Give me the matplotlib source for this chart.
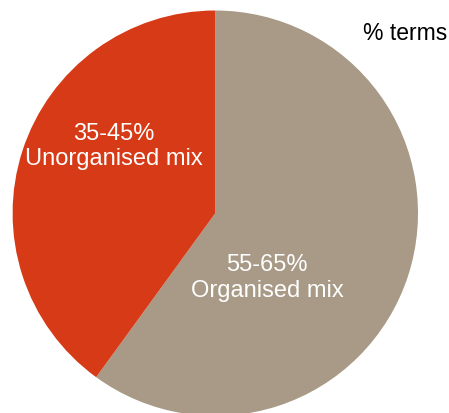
import matplotlib
matplotlib.use("Agg")
import matplotlib.pyplot as plt

labels = ["55-65%\nOrganised mix", "35-45%\nUnorganised mix"]
shares = [60, 40]
colors = ["#A89A86", "#D63A16"]

plt.rcParams["font.family"] = ["Liberation Sans", "DejaVu Sans"]

fig = plt.figure(figsize=(4.49, 4.14), dpi=100)
ax = fig.add_axes([12.6 / 449, -2.9 / 414, 405.4 / 449, 405.4 / 414])

ax.pie(shares, colors=colors, startangle=90, counterclock=False, radius=1,
       wedgeprops=dict(linewidth=0))
ax.set_xlim(-1, 1)
ax.set_ylim(-1, 1)
ax.set_aspect("equal")
ax.axis("off")

# label positions in units of the unit pie
ax.text(0.255, -0.315, labels[0], color="white", fontsize=17,
        ha="center", va="center", linespacing=1.2)
ax.text(-0.50, 0.334, labels[1], color="white", fontsize=17,
        ha="center", va="center", linespacing=1.2)

fig.text(447 / 449, 1 - 33 / 414, "% terms", fontsize=16.5,
         ha="right", va="center", color="black")

fig.savefig("out.png", dpi=100)
